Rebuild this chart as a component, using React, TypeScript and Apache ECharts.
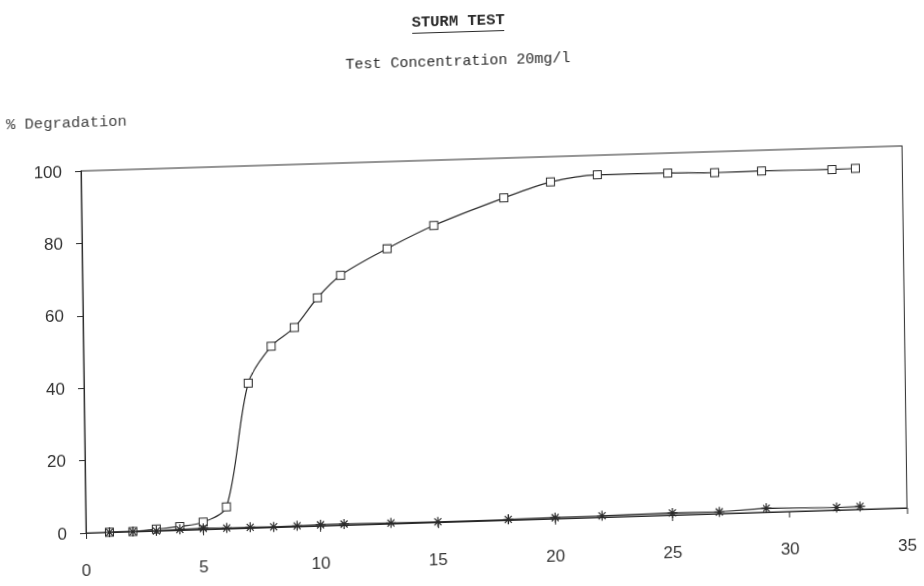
import React, { useEffect, useRef } from "react";
import * as echarts from "echarts";

const titleText = "STURM TEST";
const subtitleText = "Test Concentration 20mg/l";
const yAxisName = "% Degradation";

const testDays = [1, 2, 3, 4, 5, 6, 7, 8, 9, 10, 11, 13, 15, 18, 20, 22, 25, 27, 29, 32, 33];
const testValues = [0, 0, 0.5, 1, 2, 6, 40, 50, 55, 63, 69, 76, 82, 89, 93, 94.6, 94.5, 94.2, 94.3, 94.1, 94.2];

const blankDays = [1, 2, 3, 4, 5, 6, 7, 8, 9, 10, 11, 13, 15, 18, 20, 22, 25, 27, 29, 32, 33];
const blankValues = [0, 0, 0, 0.2, 0.3, 0.2, 0.2, 0.1, 0.2, 0.3, 0.3, 0.2, 0.1, 0.2, 0.3, 0.4, 0.6, 0.5, 1.1, 0.7, 0.8];

const xTicks = { min: 0, max: 35, interval: 5 };
const yTicks = { min: 0, max: 100, interval: 20 };

const STAR = "path://M5,0L5,10M0,5L10,5M1.5,1.5L8.5,8.5M8.5,1.5L1.5,8.5";

export default function App() {
  const ref = useRef<HTMLDivElement>(null);
  useEffect(() => {
    if (!ref.current) return;
    const chart = echarts.init(ref.current, undefined, { renderer: "svg" });
    const mono = "'Liberation Mono', 'DejaVu Sans Mono', monospace";
    const ink = "#2a2a2a";
    chart.setOption({
      animation: false,
      backgroundColor: "#ffffff",
      grid: {
        left: 86,
        top: 171,
        width: 821,
        height: 362,
        show: true,
        borderColor: ink,
        borderWidth: 1,
        containLabel: false,
      },
      xAxis: {
        type: "value",
        min: xTicks.min,
        max: xTicks.max,
        interval: xTicks.interval,
        axisLine: { show: true, lineStyle: { color: ink, width: 1 } },
        axisTick: { show: true, inside: false, length: 6, lineStyle: { color: ink } },
        splitLine: { show: false },
        axisLabel: {
          margin: 29,
          color: "#333",
          fontFamily: "'Liberation Sans', Arial, sans-serif",
          fontSize: 17,
        },
      },
      yAxis: {
        type: "value",
        min: yTicks.min,
        max: yTicks.max,
        interval: yTicks.interval,
        axisLine: { show: true, lineStyle: { color: ink, width: 1 } },
        axisTick: { show: true, inside: false, length: 6, lineStyle: { color: ink } },
        splitLine: { show: false },
        axisLabel: {
          margin: 19,
          color: "#333",
          fontFamily: "'Liberation Sans', Arial, sans-serif",
          fontSize: 17,
        },
      },
      graphic: [
        {
          type: "text",
          x: 465,
          y: 32.6,
          style: {
            text: titleText,
            fontFamily: mono,
            fontSize: 15.5,
            fontWeight: "bold",
            fill: ink,
            align: "center",
            verticalAlign: "middle",
          },
        },
        {
          type: "line",
          shape: { x1: 419, y1: 43.5, x2: 511, y2: 43.5 },
          style: { stroke: ink, lineWidth: 1 },
        },
        {
          type: "text",
          x: 464.3,
          y: 73.5,
          style: {
            text: subtitleText,
            fontFamily: mono,
            fontSize: 15,
            fill: ink,
            align: "center",
            verticalAlign: "middle",
          },
        },
        {
          type: "text",
          x: 11.7,
          y: 122.7,
          style: {
            text: yAxisName,
            fontFamily: mono,
            fontSize: 15.5,
            fill: "#444",
            align: "left",
            verticalAlign: "middle",
          },
        },
      ],
      series: [
        {
          type: "line",
          name: "Test",
          data: testDays.map((d, i) => [d, testValues[i]]),
          smooth: 0.3,
          symbol: "rect",
          symbolSize: 8,
          showAllSymbol: true,
          lineStyle: { color: ink, width: 1.2 },
          itemStyle: { color: "#ffffff", borderColor: ink, borderWidth: 1 },
          z: 2,
        },
        {
          type: "line",
          name: "Blank",
          data: blankDays.map((d, i) => [d, blankValues[i]]),
          symbol: STAR,
          symbolSize: 10,
          showAllSymbol: true,
          lineStyle: { color: ink, width: 1.2 },
          itemStyle: { color: "transparent", borderColor: ink, borderWidth: 1.2 },
          z: 3,
        },
      ],
    });
    return () => chart.dispose();
  }, []);
  return (
    <div
      style={{
        position: "fixed",
        left: 0,
        top: 0,
        width: 924,
        height: 586,
        background: "#ffffff",
        transform: "matrix(1, -0.0305, 0.0138, 1, 0, 0)",
        transformOrigin: "86px 533px",
      }}
    >
      <div ref={ref} style={{ width: 924, height: 586 }} />
    </div>
  );
}
